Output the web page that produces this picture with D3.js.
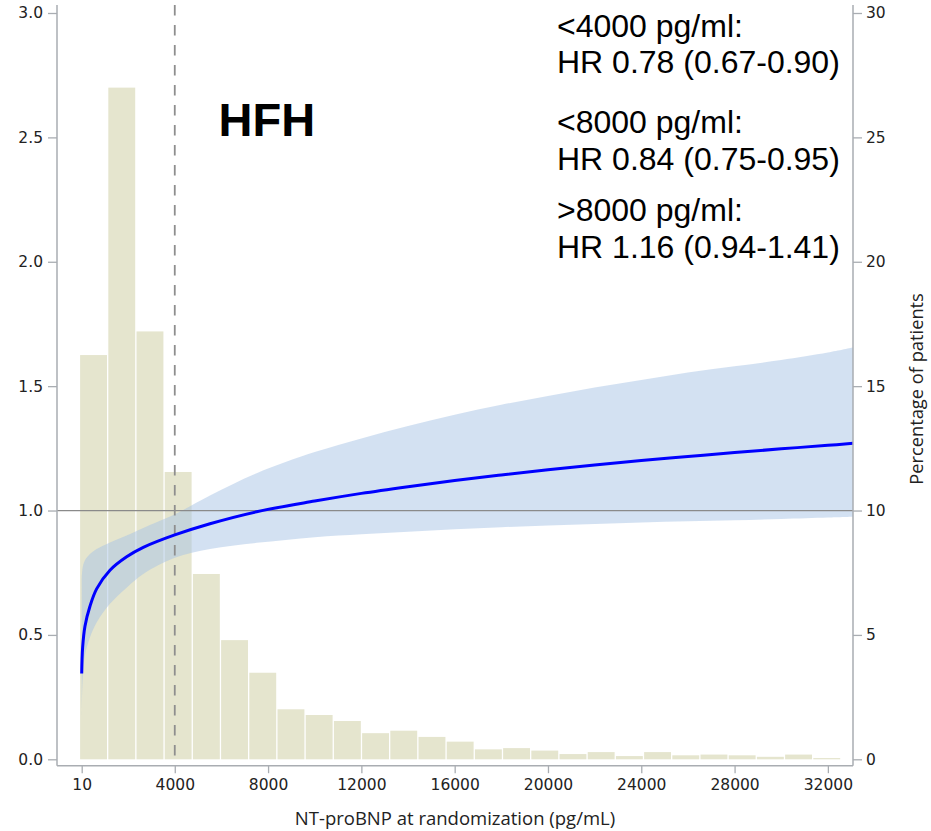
<!DOCTYPE html>
<html>
<head>
<meta charset="utf-8">
<script src="https://cdn.jsdelivr.net/npm/d3@7/dist/d3.min.js"></script>
<style>
  html, body { margin: 0; padding: 0; background: #fff; }
  svg { display: block; }
</style>
</head>
<body>
<div id="chart"></div>
<script>
// Histogram of NT-proBNP at randomization (percentage of patients per bin)
const binEdges = [-86, 1123, 2332, 3541, 4750, 5959, 7168, 8377, 9586, 10795, 12004,
  13213, 14422, 15631, 16840, 18049, 19258, 20467, 21676, 22885, 24094, 25303,
  26512, 27721, 28930, 30139, 31348, 32557];
const binPercent = [16.25, 27.0, 17.2, 11.55, 7.45, 4.79, 3.48, 2.01, 1.78, 1.54, 1.05,
  1.15, 0.90, 0.71, 0.40, 0.45, 0.35, 0.21, 0.29, 0.13, 0.29, 0.16, 0.19, 0.16, 0.10,
  0.19, 0.05];

// Spline hazard ratio for HFH with 95% confidence band
const ntGrid = [10, 50, 150, 364, 650, 1222, 1937, 2650, 4000, 5510, 7510, 10000, 12000,
  14000, 16000, 18000, 20000, 22000, 24000, 26000, 28000, 30000, 32000, 33077];
const hrValue = [0.345, 0.45, 0.535, 0.615, 0.685, 0.76, 0.814, 0.852, 0.902, 0.947,
  0.995, 1.038, 1.069, 1.096, 1.121, 1.143, 1.164, 1.183, 1.201, 1.217, 1.233, 1.248,
  1.262, 1.27];
const hrUpper = [0.72, 0.77, 0.8, 0.825, 0.845, 0.872, 0.9, 0.93, 0.985, 1.06, 1.15,
  1.235, 1.29, 1.34, 1.385, 1.425, 1.46, 1.495, 1.525, 1.555, 1.58, 1.605, 1.635, 1.655];
const hrLower = [0.18, 0.32, 0.42, 0.49, 0.55, 0.625, 0.69, 0.745, 0.81, 0.845, 0.87,
  0.893, 0.905, 0.915, 0.925, 0.933, 0.94, 0.946, 0.952, 0.957, 0.961, 0.966, 0.972,
  0.975];

// Axis ticks
const xTicks = [10, 4000, 8000, 12000, 16000, 20000, 24000, 28000, 32000];
const yLeftTicks = [0, 0.5, 1.0, 1.5, 2.0, 2.5, 3.0];
const yRightTicks = [0, 5, 10, 15, 20, 25, 30];
const cutoff = 4000;

// Subgroup estimates
const annotations = [
  "<4000 pg/ml:", "HR 0.78 (0.67-0.90)",
  "<8000 pg/ml:", "HR 0.84 (0.75-0.95)",
  ">8000 pg/ml:", "HR 1.16 (0.94-1.41)"
];
const panelTitle = "HFH";
const xTitle = "NT-proBNP at randomization (pg/mL)";
const yRightTitle = "Percentage of patients";

const W = 931, H = 831;
const plotLeft = 57, plotRight = 853, plotTop = 13, baseY = 759.3, axisY = 765.7, axisTop = 5;

const svg = d3.select("#chart").append("svg")
  .attr("width", W).attr("height", H);

const x = d3.scaleLinear().domain([-1049, 33077]).range([plotLeft, plotRight]);
const yL = d3.scaleLinear().domain([0, 3]).range([baseY, plotTop]);
const yR = d3.scaleLinear().domain([0, 30]).range([baseY, plotTop]);

const axisColor = "#a9adb2";
const labelFont = "DejaVu Sans, Verdana, sans-serif";

// histogram bars
svg.append("g").selectAll("rect")
  .data(binPercent)
  .join("rect")
  .attr("x", (d, i) => x(binEdges[i]) + 0.65)
  .attr("width", (d, i) => x(binEdges[i + 1]) - x(binEdges[i]) - 1.3)
  .attr("y", d => yR(d))
  .attr("height", d => yR(0) - yR(d))
  .attr("fill", "#e5e5ce");

// confidence band
const band = d3.area()
  .x((d, i) => x(ntGrid[i]))
  .y0((d, i) => yL(hrLower[i]))
  .y1((d, i) => yL(hrUpper[i]))
  .curve(d3.curveCatmullRom.alpha(0.5));
svg.append("path")
  .datum(ntGrid)
  .attr("d", band)
  .attr("fill", "#a8c4e6")
  .attr("fill-opacity", 0.5);

// reference line at HR = 1
svg.append("line")
  .attr("x1", plotLeft).attr("x2", plotRight)
  .attr("y1", yL(1)).attr("y2", yL(1))
  .attr("stroke", "#8a8a8a").attr("stroke-width", 1.3);

// cutoff
svg.append("line")
  .attr("x1", x(cutoff)).attr("x2", x(cutoff))
  .attr("y1", axisTop).attr("y2", axisY)
  .attr("stroke", "#8e8e8e").attr("stroke-width", 1.8)
  .attr("stroke-dasharray", "10.5,9.5");

// hazard ratio curve
const line = d3.line()
  .x((d, i) => x(ntGrid[i]))
  .y((d, i) => yL(hrValue[i]))
  .curve(d3.curveCatmullRom.alpha(0.5));
svg.append("path")
  .datum(ntGrid)
  .attr("d", line)
  .attr("fill", "none")
  .attr("stroke", "#0000ff")
  .attr("stroke-width", 3);

// axes
function styleAxis(g) {
  g.select(".domain").remove();
  g.selectAll(".tick line").attr("stroke", axisColor).attr("stroke-width", 1.3);
  g.selectAll(".tick text").attr("fill", "#222")
    .style("font-family", labelFont).style("font-size", "15.5px");
}

svg.append("g")
  .attr("transform", `translate(${plotLeft},0)`)
  .call(d3.axisLeft(yL).tickValues(yLeftTicks).tickFormat(d3.format(".1f"))
    .tickSize(9).tickPadding(5))
  .call(styleAxis);

svg.append("g")
  .attr("transform", `translate(${plotRight},0)`)
  .call(d3.axisRight(yR).tickValues(yRightTicks).tickFormat(d3.format("d"))
    .tickSize(9).tickPadding(4))
  .call(styleAxis);

svg.append("g")
  .attr("transform", `translate(0,${axisY})`)
  .call(d3.axisBottom(x).tickValues(xTicks).tickFormat(d3.format("d"))
    .tickSize(7.5).tickPadding(6))
  .call(styleAxis);

// axis frame lines
svg.append("line").attr("x1", plotLeft).attr("x2", plotLeft).attr("y1", axisTop).attr("y2", axisY)
  .attr("stroke", axisColor).attr("stroke-width", 1.5);
svg.append("line").attr("x1", plotRight).attr("x2", plotRight).attr("y1", axisTop).attr("y2", axisY)
  .attr("stroke", axisColor).attr("stroke-width", 1.5);
svg.append("line").attr("x1", plotLeft).attr("x2", plotRight).attr("y1", axisY).attr("y2", axisY)
  .attr("stroke", axisColor).attr("stroke-width", 1.5);

// axis titles
svg.append("text")
  .attr("x", 455).attr("y", 825)
  .attr("text-anchor", "middle")
  .style("font-family", "Open Sans, sans-serif").style("font-size", "18.5px")
  .attr("fill", "#222")
  .text(xTitle);

svg.append("text")
  .attr("transform", "translate(923,389) rotate(-90)")
  .attr("text-anchor", "middle")
  .style("font-family", "Open Sans, sans-serif").style("font-size", "18.3px")
  .attr("fill", "#222")
  .text(yRightTitle);

// panel title
svg.append("text")
  .attr("x", 218.5).attr("y", 136)
  .style("font-family", "Liberation Sans, Arial, sans-serif")
  .style("font-size", "47px").style("font-weight", "bold")
  .attr("fill", "#000")
  .text(panelTitle);

// subgroup estimates
const annBaselines = [36.5, 72.5, 132.5, 169.5, 220.5, 257.5];
svg.append("g").selectAll("text")
  .data(annotations)
  .join("text")
  .attr("x", 557)
  .attr("y", (d, i) => annBaselines[i])
  .style("font-family", "Liberation Sans, Arial, sans-serif")
  .style("font-size", "32px")
  .attr("fill", "#000")
  .text(d => d);
</script>
</body>
</html>
